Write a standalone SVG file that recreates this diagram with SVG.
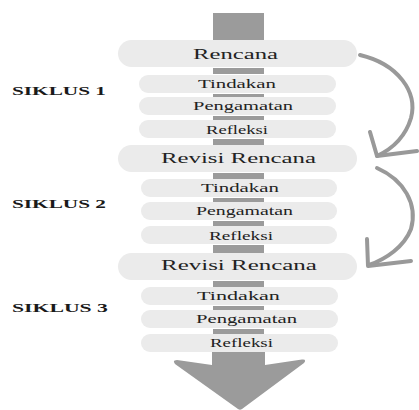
<svg xmlns="http://www.w3.org/2000/svg" width="419" height="410" viewBox="0 0 419 410">
<style>
.pill{fill:#ebebeb}
.bar{fill:#9b9b9b}
.curve{fill:none;stroke:#999;stroke-width:4;stroke-linecap:round;stroke-linejoin:round}
.big{font-family:"Liberation Serif",serif;font-size:15px;fill:#222}
.small{font-family:"Liberation Serif",serif;font-size:13.5px;fill:#222}
.lbl{font-family:"Liberation Serif",serif;font-size:13px;font-weight:bold;fill:#1a1a1a}
</style>
<rect width="419" height="410" fill="#fff"/>
<g id="connectors">
<rect class="bar" x="213" y="13" width="51" height="27"/>
<rect class="bar" x="213" y="68" width="51" height="6"/>
<rect class="bar" x="213" y="94" width="51" height="3"/>
<rect class="bar" x="213" y="116" width="51" height="4"/>
<rect class="bar" x="213" y="139" width="51" height="6"/>
<rect class="bar" x="213" y="173" width="51" height="6"/>
<rect class="bar" x="213" y="198" width="51" height="4"/>
<rect class="bar" x="213" y="221" width="51" height="5"/>
<rect class="bar" x="213" y="245" width="51" height="8"/>
<rect class="bar" x="213" y="281" width="51" height="6"/>
<rect class="bar" x="213" y="306" width="51" height="4"/>
<rect class="bar" x="213" y="329" width="51" height="5"/>
<path id="big-arrow" class="bar" d="M212,350 L265,350 L265,365 L302,359.5 Q307,359 304,363 L242,409 Q240,410.5 238,409 L175,364 Q172,360 177,360 L212,365 Z"/>
<path class="curve" d="M360,55 C398,64 418,92 411,118 C405,138 392,149 377,156"/>
<path class="curve" d="M370,132 L377,156 L417,151"/>
<path class="curve" d="M377,168 C404,180 418,204 411,229 C404,247 386,259 369,265"/>
<path class="curve" d="M367,239 L368,266 L411,261"/>
</g>
<g id="labels">
<text class="lbl" transform="translate(12,95) scale(1.55,1)" textLength="60.6" lengthAdjust="spacingAndGlyphs">SIKLUS 1</text>
<text class="lbl" transform="translate(12,208) scale(1.55,1)" textLength="60.6" lengthAdjust="spacingAndGlyphs">SIKLUS 2</text>
<text class="lbl" transform="translate(12,312) scale(1.55,1)" textLength="61.9" lengthAdjust="spacingAndGlyphs">SIKLUS 3</text>
</g>
<g id="rencana"><rect class="pill" x="118" y="40" width="239" height="27" rx="13.5"/><text class="big" transform="translate(193,59) scale(1.55,1)" textLength="54.8" lengthAdjust="spacingAndGlyphs">Rencana</text></g>
<g id="tindakan1"><rect class="pill" x="139" y="75" width="197" height="18" rx="9"/><text class="small" transform="translate(198,88) scale(1.55,1)" textLength="50.3" lengthAdjust="spacingAndGlyphs">Tindakan</text></g>
<g id="pengamatan1"><rect class="pill" x="139" y="97" width="197" height="18" rx="9"/><text class="small" transform="translate(193,110) scale(1.55,1)" textLength="64.5" lengthAdjust="spacingAndGlyphs">Pengamatan</text></g>
<g id="refleksi1"><rect class="pill" x="139" y="120" width="197" height="18" rx="9"/><text class="small" transform="translate(206,134) scale(1.55,1)" textLength="40" lengthAdjust="spacingAndGlyphs">Refleksi</text></g>
<g id="revisi1"><rect class="pill" x="118" y="145" width="239" height="27" rx="13.5"/><text class="big" transform="translate(161,163) scale(1.55,1)" textLength="100" lengthAdjust="spacingAndGlyphs">Revisi Rencana</text></g>
<g id="tindakan2"><rect class="pill" x="141" y="179" width="196" height="18" rx="9"/><text class="small" transform="translate(201,192) scale(1.55,1)" textLength="50.3" lengthAdjust="spacingAndGlyphs">Tindakan</text></g>
<g id="pengamatan2"><rect class="pill" x="141" y="202" width="196" height="18" rx="9"/><text class="small" transform="translate(196,215) scale(1.55,1)" textLength="62.6" lengthAdjust="spacingAndGlyphs">Pengamatan</text></g>
<g id="refleksi2"><rect class="pill" x="141" y="226" width="196" height="18" rx="9"/><text class="small" transform="translate(209,240) scale(1.55,1)" textLength="41.3" lengthAdjust="spacingAndGlyphs">Refleksi</text></g>
<g id="revisi2"><rect class="pill" x="118" y="253" width="239" height="27" rx="13.5"/><text class="big" transform="translate(161,270) scale(1.55,1)" textLength="100.6" lengthAdjust="spacingAndGlyphs">Revisi Rencana</text></g>
<g id="tindakan3"><rect class="pill" x="141" y="287" width="197" height="18" rx="9"/><text class="small" transform="translate(197,300) scale(1.55,1)" textLength="53.5" lengthAdjust="spacingAndGlyphs">Tindakan</text></g>
<g id="pengamatan3"><rect class="pill" x="141" y="310" width="197" height="18" rx="9"/><text class="small" transform="translate(196,323) scale(1.55,1)" textLength="65.2" lengthAdjust="spacingAndGlyphs">Pengamatan</text></g>
<g id="refleksi3"><rect class="pill" x="141" y="334" width="197" height="18" rx="9"/><text class="small" transform="translate(210,347) scale(1.55,1)" textLength="40.6" lengthAdjust="spacingAndGlyphs">Refleksi</text></g>
</svg>
